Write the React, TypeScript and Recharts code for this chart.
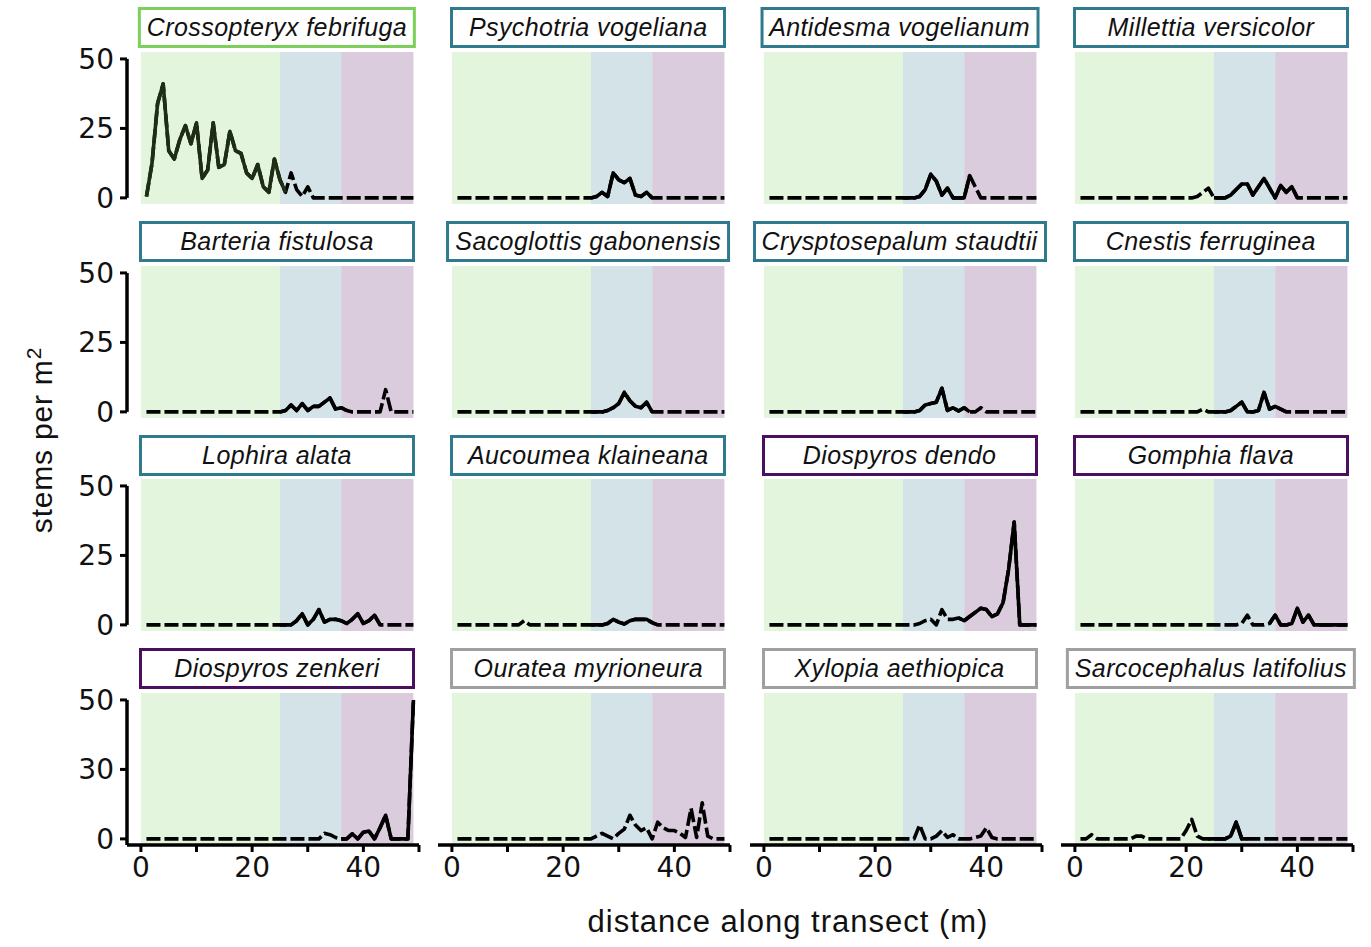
import { LineChart, Line, XAxis, YAxis, ReferenceArea, ReferenceLine } from "recharts";

// distance along transect (m)
const distance = [
  1, 2, 3, 4, 5, 6, 7, 8, 9, 10, 11, 12, 13, 14, 15, 16, 17, 18, 19, 20, 21, 22, 23, 24, 25,
  26, 27, 28, 29, 30, 31, 32, 33, 34, 35, 36, 37, 38, 39, 40, 41, 42, 43, 44, 45, 46, 47, 48, 49,
];
const xTicks = [0, 10, 20, 30, 40, 50];
const xTickLabels = ["0", "", "20", "", "40", ""];
const yTicks = [0, 25, 50];
const yTickLabels = ["0", "25", "50"];
const yTickLabelsLastRow = ["0", "30", "50"];

// stems per m2, one value per metre (1..49)
const crossopteryx = [
  0.5, 12.5, 34, 41, 17, 14, 21, 26, 19.5, 27, 7, 10, 27, 11, 12, 24, 17, 16, 9, 7,
  12, 4, 2, 14, 6.5, 2, 9, 3, 0.5, 4, 0, 0, 0, 0, 0, 0, 0, 0, 0, 0, 0, 0, 0, 0, 0, 0, 0, 0, 0,
];
const psychotria = [
  0, 0, 0, 0, 0, 0, 0, 0, 0, 0, 0, 0, 0, 0, 0, 0, 0, 0, 0, 0,
  0, 0, 0, 0, 0, 0.5, 2, 0.5, 9, 6.5, 5.5, 7, 1, 0.5, 2, 0, 0, 0, 0, 0, 0, 0, 0, 0, 0, 0, 0, 0, 0,
];
const antidesma = [
  0, 0, 0, 0, 0, 0, 0, 0, 0, 0, 0, 0, 0, 0, 0, 0, 0, 0, 0, 0,
  0, 0, 0, 0, 0, 0, 0, 0.5, 3, 8.5, 6, 1, 3.5, 0, 0, 0, 8, 4, 0, 0, 0, 0, 0, 0, 0, 0, 0, 0, 0,
];
const millettia = [
  0, 0, 0, 0, 0, 0, 0, 0, 0, 0, 0, 0, 0, 0, 0, 0, 0, 0, 0, 0,
  0, 0.5, 2, 3.5, 0, 0, 0, 1, 3, 5, 5, 1, 4, 7, 3.5, 0, 4.5, 2, 4, 0, 0, 0, 0, 0, 0, 0, 0, 0, 0,
];
const barteria = [
  0, 0, 0, 0, 0, 0, 0, 0, 0, 0, 0, 0, 0, 0, 0, 0, 0, 0, 0, 0,
  0, 0, 0, 0, 0, 0.5, 2.5, 0.5, 3, 0.5, 2, 2, 3.5, 5, 1, 1.5, 0.5, 0, 0, 0, 0, 0, 0, 8, 0, 0, 0, 0, 0,
];
const sacoglottis = [
  0, 0, 0, 0, 0, 0, 0, 0, 0, 0, 0, 0, 0, 0, 0, 0, 0, 0, 0, 0,
  0, 0, 0, 0, 0, 0, 0, 0.5, 1.5, 3, 7, 4, 2, 1.5, 3.5, 0, 0, 0, 0, 0, 0, 0, 0, 0, 0, 0, 0, 0, 0,
];
const crysptosepalum = [
  0, 0, 0, 0, 0, 0, 0, 0, 0, 0, 0, 0, 0, 0, 0, 0, 0, 0, 0, 0,
  0, 0, 0, 0, 0, 0, 0, 0.5, 2.5, 3, 3.5, 8.5, 0.5, 1.5, 0.3, 1.5, 0, 0, 1.5, 0, 0, 0, 0, 0, 0, 0, 0, 0, 0,
];
const cnestis = [
  0, 0, 0, 0, 0, 0, 0, 0, 0, 0, 0, 0, 0, 0, 0, 0, 0, 0, 0, 0,
  0, 0, 1, 0, 0, 0, 0, 0.5, 2, 3.5, 0, 0, 0.5, 7, 1, 2, 1, 0, 0, 0, 0, 0, 0, 0, 0, 0, 0, 0, 0,
];
const lophira = [
  0, 0, 0, 0, 0, 0, 0, 0, 0, 0, 0, 0, 0, 0, 0, 0, 0, 0, 0, 0,
  0, 0, 0, 0, 0, 0, 0, 1.5, 4, 0, 2, 5.5, 1, 2, 2, 1.5, 0.5, 2, 4, 0.5, 1.5, 3.5, 0, 0, 0, 0, 0, 0, 0,
];
const aucoumea = [
  0, 0, 0, 0, 0, 0, 0, 0, 0, 0, 0, 0, 1.5, 0, 0, 0, 0, 0, 0, 0,
  0, 0, 0, 0, 0, 0, 0, 0.5, 2, 1, 0.3, 1.5, 2, 2, 2, 0.8, 0, 0, 0, 0, 0, 0, 0, 0, 0, 0, 0, 0, 0,
];
const dendo = [
  0, 0, 0, 0, 0, 0, 0, 0, 0, 0, 0, 0, 0, 0, 0, 0, 0, 0, 0, 0,
  0, 0, 0, 0, 0, 0, 0, 0.5, 1.5, 2, 0, 5.5, 2, 2, 2.5, 1.5, 3, 4.5, 6, 5.5, 3, 4, 8, 20, 37, 0, 0, 0, 0,
];
const gomphia = [
  0, 0, 0, 0, 0, 0, 0, 0, 0, 0, 0, 0, 0, 0, 0, 0, 0, 0, 0, 0,
  0, 0, 0, 0, 0, 0, 0, 0, 0, 0.5, 3.5, 0, 0, 0, 0.5, 3.5, 0, 0, 0.5, 6, 1, 3.5, 0, 0, 0, 0, 0, 0, 0,
];
const zenkeri = [
  0, 0, 0, 0, 0, 0, 0, 0, 0, 0, 0, 0, 0, 0, 0, 0, 0, 0, 0, 0,
  0, 0, 0, 0, 0, 0, 0, 0, 0, 0, 0, 0, 2, 1.5, 0.5, 0, 0, 1.8, 0, 2.4, 2.8, 0, 4, 8.5, 0, 0, 0, 0, 50,
];
const ouratea = [
  0, 0, 0, 0, 0, 0, 0, 0, 0, 0, 0, 0, 0, 0, 0, 0, 0, 0, 0, 0,
  0, 0, 0, 0, 0, 1, 2, 1, 0, 2, 3.5, 8.5, 5, 3, 4, 0, 6, 4, 3, 3, 2, 0.5, 11, 0.5, 13, 1, 0, 0, 0,
];
const xylopia = [
  0, 0, 0, 0, 0, 0, 0, 0, 0, 0, 0, 0, 0, 0, 0, 0, 0, 0, 0, 0,
  0, 0, 0, 0, 0, 0, 0, 5, 0, 0, 1, 3, 0.5, 1.5, 0, 0, 0, 0.5, 1, 4, 0.5, 0, 0, 0, 0, 0, 0, 0, 0,
];
const sarcocephalus = [
  0, 0, 1.5, 0, 0, 0, 0, 0, 0, 0, 1, 1, 0, 0, 0, 0, 0, 0, 0, 3,
  7, 1, 0, 0, 0, 0, 0, 1, 6, 0, 0, 0, 0, 0, 0, 0, 0, 0, 0, 0, 0, 0, 0, 0, 0, 0, 0, 0, 0,
];

const speciesNames = [
  "Crossopteryx febrifuga", "Psychotria vogeliana", "Antidesma vogelianum", "Millettia versicolor",
  "Barteria fistulosa", "Sacoglottis gabonensis", "Crysptosepalum staudtii", "Cnestis ferruginea",
  "Lophira alata", "Aucoumea klaineana", "Diospyros dendo", "Gomphia flava",
  "Diospyros zenkeri", "Ouratea myrioneura", "Xylopia aethiopica", "Sarcocephalus latifolius",
];
const speciesValues = [
  crossopteryx, psychotria, antidesma, millettia,
  barteria, sacoglottis, crysptosepalum, cnestis,
  lophira, aucoumea, dendo, gomphia,
  zenkeri, ouratea, xylopia, sarcocephalus,
];
// stretch of the transect drawn as a solid line (rest dashed)
const solidRanges: ([number, number] | null)[] = [
  [1, 26], [25, 36], [25, 37], [25, 40],
  [25, 37], [25, 36], [25, 37], [25, 38],
  [25, 43], [25, 37], [35, 49], [35, 49],
  [36, 49], null, null, [24, 31],
];
// habitat zones along the transect
const zoneEdges = [0, 25, 36, 49];

const GREEN = "#7ccf5a";
const TEAL = "#2f7a8c";
const PURPLE = "#4b0f5f";
const GRAY = "#a0a0a0";
const borders = [
  GREEN, TEAL, TEAL, TEAL,
  TEAL, TEAL, TEAL, TEAL,
  TEAL, TEAL, PURPLE, PURPLE,
  PURPLE, GRAY, GRAY, GRAY,
];
const ZONE_FILLS = ["#e3f5dc", "#d3e3e8", "#dacbdd"];

const AXIS_X0 = 127;
const COL_STEP = 311.3;
const BAND_TOP0 = 51.7;
const ROW_STEP = 213.8;
const PLOT_W = 292;
const PLOT_H = 152;
const Y_AXIS_W = 60;
const X_AXIS_H = 46;
const PAD = 12;
const Y_DOMAIN: [number, number] = [-2.2, 52.5];
const X_DOMAIN: [number, number] = [-2.5, 50];
const LINE_W = 3.6;

const tickFont = { fontSize: 28, fill: "#111", fontFamily: "DejaVu Sans" };

function Panel({ idx }: { idx: number }) {
  const row = Math.floor(idx / 4);
  const col = idx % 4;
  const lastRow = row === 3;
  const values = speciesValues[idx];
  const range = solidRanges[idx];
  const data = distance.map((d, i) => ({
    d,
    dash: values[i],
    solid: range && d >= range[0] && d <= range[1] ? values[i] : null,
  }));
  const yw = col === 0 ? Y_AXIS_W : 0;
  const width = yw + PLOT_W + 4;
  const height = PAD + PLOT_H + (lastRow ? X_AXIS_H : PAD);
  const left = AXIS_X0 + col * COL_STEP - yw;
  const top = BAND_TOP0 + row * ROW_STEP - PAD;
  const labels = lastRow ? yTickLabelsLastRow : yTickLabels;
  const lineColor = idx === 0 ? "#1e2d16" : "#000";
  const centerX = AXIS_X0 + col * COL_STEP + 150;

  return (
    <>
      <div
        style={{
          position: "absolute",
          left: centerX,
          top: 7 + row * ROW_STEP,
          transform: "translateX(-50%)",
          minWidth: 276,
          height: 41,
          boxSizing: "border-box",
          border: `3px solid ${borders[idx]}`,
          background: "#fff",
          fontFamily: "Liberation Sans, Arial, sans-serif",
          fontStyle: "italic",
          fontSize: 25,
          letterSpacing: 0.4,
          lineHeight: "35px",
          textAlign: "center",
          whiteSpace: "nowrap",
          padding: "0 6px",
          color: "#111",
        }}
      >
        {speciesNames[idx]}
      </div>
      <div style={{ position: "absolute", left, top }}>
        <LineChart
          width={width}
          height={height}
          data={data}
          margin={{ top: PAD, right: 4, bottom: lastRow ? 0 : PAD, left: 0 }}
        >
          <XAxis
            dataKey="d"
            type="number"
            domain={X_DOMAIN}
            ticks={xTicks}
            interval={0}
            hide={!lastRow}
            height={X_AXIS_H}
            axisLine={{ stroke: "#000", strokeWidth: 3.5 }}
            tickLine={{ stroke: "#000", strokeWidth: 3 }}
            tickSize={7}
            tickMargin={5}
            tick={tickFont}
            tickFormatter={(v: number) => xTickLabels[xTicks.indexOf(v)] ?? ""}
          />
          <YAxis
            type="number"
            domain={Y_DOMAIN}
            ticks={yTicks}
            interval={0}
            hide={col !== 0}
            width={Y_AXIS_W}
            axisLine={false}
            tickLine={{ stroke: "#000", strokeWidth: 3 }}
            tickSize={7}
            tickMargin={6}
            tick={tickFont}
            tickFormatter={(v: number) => labels[yTicks.indexOf(v)] ?? ""}
          />
          {ZONE_FILLS.map((fill, z) => (
            <ReferenceArea
              key={z}
              x1={zoneEdges[z]}
              x2={zoneEdges[z + 1]}
              fill={fill}
              fillOpacity={1}
              stroke="none"
            />
          ))}
          {col === 0 && (
            <ReferenceLine
              segment={[
                { x: X_DOMAIN[0], y: lastRow ? Y_DOMAIN[0] : 0 },
                { x: X_DOMAIN[0], y: 50 },
              ]}
              stroke="#000"
              strokeWidth={3.5}
            />
          )}
          <Line
            dataKey="dash"
            type="linear"
            stroke="#000"
            strokeWidth={LINE_W}
            strokeDasharray="14 4"
            strokeLinejoin="round"
            dot={false}
            activeDot={false}
            isAnimationActive={false}
          />
          <Line
            dataKey="solid"
            type="linear"
            stroke={lineColor}
            strokeWidth={LINE_W}
            strokeLinejoin="round"
            dot={false}
            activeDot={false}
            connectNulls={false}
            isAnimationActive={false}
          />
        </LineChart>
      </div>
    </>
  );
}

export default function App() {
  return (
    <div
      style={{
        position: "absolute",
        left: 0,
        top: 0,
        width: 1371,
        height: 947,
        background: "#fff",
        fontFamily: "Liberation Sans, Arial, sans-serif",
        color: "#111",
      }}
    >
      {speciesNames.map((_, i) => (
        <Panel key={i} idx={i} />
      ))}
      <div
        style={{
          position: "absolute",
          left: 40,
          top: 440,
          transform: "translate(-50%, -50%) rotate(-90deg)",
          fontSize: 30,
          letterSpacing: 0.8,
          whiteSpace: "nowrap",
        }}
      >
        stems per m<sup style={{ fontSize: 21 }}>2</sup>
      </div>
      <div
        style={{
          position: "absolute",
          left: 788,
          top: 922,
          transform: "translate(-50%, -50%)",
          fontSize: 31,
          letterSpacing: 1,
          whiteSpace: "nowrap",
        }}
      >
        distance along transect (m)
      </div>
    </div>
  );
}
